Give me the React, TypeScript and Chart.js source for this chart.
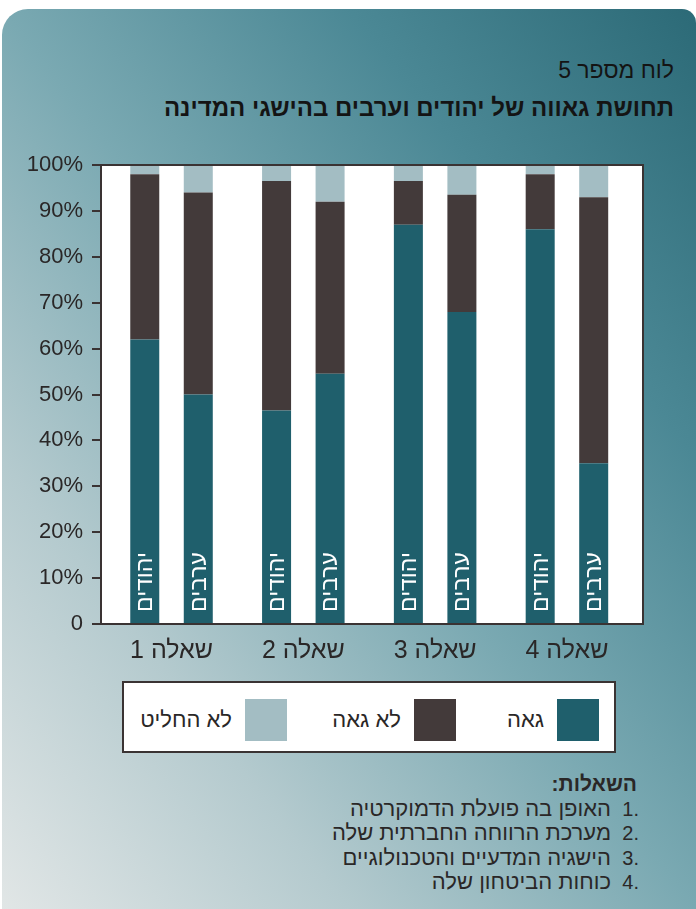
import React, { useEffect, useRef } from 'react';
import { Chart, registerables } from 'chart.js';

Chart.register(...registerables);

const questions = ['שאלה 1', 'שאלה 2', 'שאלה 3', 'שאלה 4'];
const groupNames = ['יהודים', 'ערבים'];
const seriesNames = ['גאה', 'לא גאה', 'לא החליט'];
const seriesColors = ['#1f5f6c', '#433a3a', '#a3bdc3'];

const jewsProud = [62, 46.5, 87, 86];
const jewsNotProud = [36, 50, 9.5, 12];
const jewsUndecided = [2, 3.5, 3.5, 2];

const arabsProud = [50, 54.5, 68, 35];
const arabsNotProud = [44, 37.5, 25.5, 58];
const arabsUndecided = [6, 8, 6.5, 7];

const yTickValues = [0, 10, 20, 30, 40, 50, 60, 70, 80, 90, 100];

const tableNumber = 'לוח מספר 5';
const chartTitle = 'תחושת גאווה של יהודים וערבים בהישגי המדינה';
const listTitle = 'השאלות:';
const questionTexts = [
  'האופן בה פועלת הדמוקרטיה',
  'מערכת הרווחה החברתית שלה',
  'הישגיה המדעיים והטכנולוגיים',
  'כוחות הביטחון שלה',
];

const FONT = '"Liberation Sans", Arial, "DejaVu Sans", sans-serif';
const TEXT = '#2a2727';

const framePlugin = {
  id: 'plotFrame',
  beforeDraw(chart: any) {
    const { ctx, chartArea } = chart;
    const { left, top, right, bottom } = chartArea;
    ctx.save();
    ctx.fillStyle = '#ffffff';
    ctx.fillRect(left, top, right - left, bottom - top);
    ctx.restore();
  },
  afterDraw(chart: any) {
    const { ctx, chartArea } = chart;
    const { left, top, right, bottom } = chartArea;
    ctx.save();
    ctx.strokeStyle = '#3a3333';
    ctx.lineWidth = 2;
    ctx.beginPath();
    ctx.moveTo(left, top);
    ctx.lineTo(right, top);
    ctx.lineTo(right, bottom);
    ctx.stroke();
    ctx.restore();
  },
};

const barLabelPlugin = {
  id: 'barLabels',
  afterDatasetsDraw(chart: any) {
    const ctx = chart.ctx;
    const pairs: [number, string][] = [
      [0, groupNames[0]],
      [3, groupNames[1]],
    ];
    pairs.forEach(([di, text]) => {
      const meta = chart.getDatasetMeta(di);
      meta.data.forEach((el: any) => {
        const { x, base } = el.getProps(['x', 'base'], true);
        ctx.save();
        ctx.translate(x, base - 11);
        ctx.rotate(-Math.PI / 2);
        ctx.fillStyle = '#ffffff';
        ctx.font = `23px ${FONT}`;
        ctx.textAlign = 'left';
        ctx.textBaseline = 'middle';
        ctx.fillText(text, 0, 1);
        ctx.restore();
      });
    });
  },
};

function BarChart() {
  const ref = useRef<HTMLCanvasElement | null>(null);
  useEffect(() => {
    if (!ref.current) return;
    const mk = (label: string, stack: string, data: number[], color: string) => ({
      label,
      stack,
      data,
      backgroundColor: color,
      borderWidth: 0,
      categoryPercentage: 0.812,
      barPercentage: 0.542,
    });
    const chart = new Chart(ref.current, {
      type: 'bar',
      data: {
        labels: questions,
        datasets: [
          mk(seriesNames[0], 'jews', jewsProud, seriesColors[0]),
          mk(seriesNames[1], 'jews', jewsNotProud, seriesColors[1]),
          mk(seriesNames[2], 'jews', jewsUndecided, seriesColors[2]),
          mk(seriesNames[0], 'arabs', arabsProud, seriesColors[0]),
          mk(seriesNames[1], 'arabs', arabsNotProud, seriesColors[1]),
          mk(seriesNames[2], 'arabs', arabsUndecided, seriesColors[2]),
        ],
      },
      options: {
        animation: false,
        responsive: false,
        maintainAspectRatio: false,
        layout: { padding: { top: 35, right: 53, left: 0, bottom: 0 } },
        plugins: {
          legend: { display: false },
          tooltip: { enabled: false },
          title: { display: false },
        },
        scales: {
          x: {
            stacked: true,
            grid: { display: true, drawOnChartArea: false, drawTicks: false },
            border: { display: true, color: '#3a3333', width: 2 },
            ticks: {
              color: TEXT,
              font: { family: FONT, size: 25 },
              padding: 12,
            },
            afterBuildTicks: (scale: any) => {
              // slightly uneven outer margins of the category band, as in the original
              scale._startValue = -0.535;
              scale._valueRange = 4.112;
            },
            afterFit: (scale: any) => {
              scale.height = 46;
            },
          },
          y: {
            stacked: true,
            min: 0,
            max: 100,
            afterBuildTicks: (scale: any) => {
              scale.ticks = yTickValues.map((v) => ({ value: v }));
            },
            ticks: {
              color: TEXT,
              font: { family: FONT, size: 22 },
              padding: 9,
              callback: (v: any) => (Number(v) === 0 ? '0' : `${v}%`),
            },
            grid: {
              drawOnChartArea: false,
              drawTicks: true,
              tickLength: 9,
              color: '#3a3333',
              lineWidth: 2,
            },
            border: { display: true, color: '#3a3333', width: 2 },
            afterFit: (scale: any) => {
              scale.width = 101;
            },
          },
        },
      },
      plugins: [framePlugin, barLabelPlugin],
    } as any);
    return () => chart.destroy();
  }, []);
  return (
    <canvas
      ref={ref}
      width={696}
      height={540}
      style={{ position: 'absolute', left: 0, top: 130, width: 696, height: 540 }}
    />
  );
}

const legendItems = [
  { name: seriesNames[0], color: seriesColors[0], right: 599 },
  { name: seriesNames[1], color: seriesColors[1], right: 456 },
  { name: seriesNames[2], color: seriesColors[2], right: 287 },
];

export default function App() {
  return (
    <div
      style={{
        position: 'absolute',
        left: 0,
        top: 0,
        width: 696,
        height: 909,
        overflow: 'hidden',
        background: '#ffffff',
        fontFamily: FONT,
      }}
    >
      <div
        style={{
          position: 'absolute',
          left: 2,
          top: 9,
          width: 694,
          height: 900,
          borderRadius: '26px 14px 0 0',
          background:
            'linear-gradient(to top right, #e1e6e6 0%, #b4cace 25%, #7aa9b2 50%, #4b8895 75%, #2c6a77 100%)',
        }}
      />
      <div
        style={{
          position: 'absolute',
          right: 22,
          top: 56,
          fontSize: 23,
          lineHeight: '28px',
          color: '#141414',
          direction: 'rtl',
          whiteSpace: 'nowrap',
        }}
      >
        {tableNumber}
      </div>
      <div
        style={{
          position: 'absolute',
          right: 22,
          top: 94,
          fontSize: 24,
          lineHeight: '28px',
          fontWeight: 'bold',
          color: '#141414',
          direction: 'rtl',
          whiteSpace: 'nowrap',
        }}
      >
        {chartTitle}
      </div>
      <BarChart />
      <div
        style={{
          position: 'absolute',
          left: 122,
          top: 681,
          width: 490,
          height: 68,
          border: '2px solid #3a3333',
          background: '#ffffff',
        }}
      />
      {legendItems.map((it) => (
        <div
          key={it.name}
          style={{
            position: 'absolute',
            right: 696 - it.right,
            top: 699,
            height: 42,
            display: 'flex',
            flexDirection: 'row-reverse',
            alignItems: 'center',
            gap: 13,
            direction: 'ltr',
          }}
        >
          <div style={{ width: 42, height: 42, background: it.color }} />
          <span style={{ fontSize: 22, color: TEXT, direction: 'rtl', whiteSpace: 'nowrap' }}>
            {it.name}
          </span>
        </div>
      ))}
      <div
        style={{
          position: 'absolute',
          right: 59,
          top: 772,
          direction: 'rtl',
          color: TEXT,
          fontSize: 22,
          lineHeight: '24.5px',
          whiteSpace: 'nowrap',
        }}
      >
        <div style={{ fontWeight: 'bold', fontSize: 21 }}>{listTitle}</div>
        {questionTexts.map((q, i) => (
          <div key={q} style={{ display: 'flex', flexDirection: 'row', alignItems: 'baseline' }}>
            <span
              style={{
                width: 28,
                flex: '0 0 28px',
                display: 'inline-block',
                direction: 'ltr',
                unicodeBidi: 'isolate',
                textAlign: 'right',
                marginRight: -2,
                fontSize: 20,
              }}
            >
              {`${i + 1}.`}
            </span>
            <span>{q}</span>
          </div>
        ))}
      </div>
    </div>
  );
}
